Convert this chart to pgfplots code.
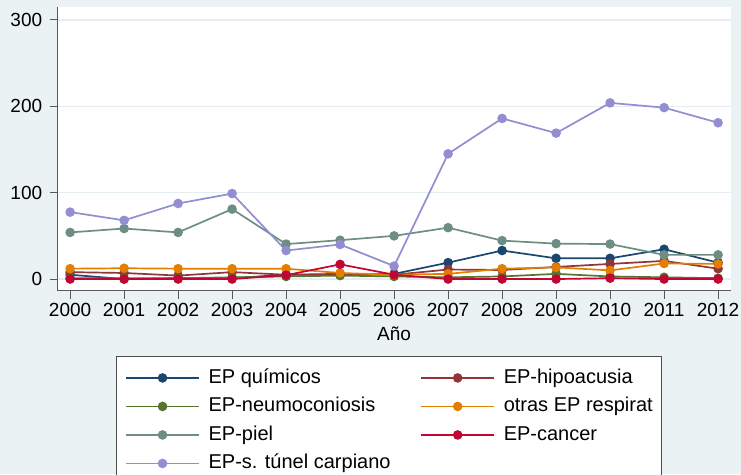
\documentclass[border=0pt]{standalone}
\usepackage{pgfplots}
\usepackage{pgfplotstable}
\pgfplotsset{compat=1.18}
\usepackage{fontspec}
\setmainfont{Liberation Sans}

\definecolor{bgc}{HTML}{EAF2F3}
\definecolor{gridc}{HTML}{E4EDF0}
\definecolor{pnavy}{HTML}{1A476F}
\definecolor{pmaroon}{HTML}{90353B}
\definecolor{pforest}{HTML}{55752F}
\definecolor{porange}{HTML}{E37E00}
\definecolor{pteal}{HTML}{6E8E84}
\definecolor{pcran}{HTML}{C10534}
\definecolor{plav}{HTML}{938DD2}

% values
\pgfplotstableread{
year quim hipo neumo otras piel cancer tunel
2000 5 8 1 12 54 0 77.5
2001 0 7 1 12.5 58.5 0 68
2002 1 4 1 12 54 0 87.5
2003 1 8 2 12 81 0 99
2004 5 5 3 12 40.5 4.5 33
2005 5 6 4 7 45 17 40
2006 6 5 3 5 50 5 15
2007 19 11 2 6 59.5 0 145
2008 33 10.5 3 12 44.5 0 186
2009 24 14 6 13.5 41 0 169
2010 24 17.5 3 10 40.5 1 204
2011 34.5 21 2 18 28 0 198.5
2012 19 12 1 17.5 28 0 181
}\data

\begin{document}
\begin{tikzpicture}[x=1pt,y=1pt]
\fill[bgc] (0,0) rectangle (741,474);
\useasboundingbox (0,0) rectangle (741,474);
\begin{axis}[
    at={(57.7pt,183.3pt)}, anchor=south west,
    scale only axis, width=672.8pt, height=283.4pt,
    xmin=1999.77, xmax=2012.23, ymin=-13.5, ymax=314.7,
    axis background/.style={fill=white},
    axis x line*=bottom, axis y line*=left,
    axis line style={black!65, line width=1.1pt, -},
    xtick={2000,...,2012}, ytick={0,100,200,300},
    tick align=outside, major tick length=8pt,
    tick style={black!65, line width=1pt},
    ymajorgrids, major grid style={gridc, line width=1.3pt},
    /pgf/number format/assume math mode=true,
    tick label style={font=\fontsize{19}{22}\selectfont},
    xticklabel style={/pgf/number format/1000 sep={}, yshift=-1pt},
    yticklabel style={xshift=-4pt},
    xlabel={Año},
    every axis x label/.style={at={(axis description cs:0.5,-0.174)}, anchor=base, font=\fontsize{19}{22}\selectfont},
    every axis plot/.append style={line width=1.7pt, mark=*, mark size=3.9pt, mark options={solid}},
    legend columns=2,
    legend cell align=left,
    legend style={at={(axis description cs:0.0867,-0.2304)}, anchor=north west,
        draw=black!70, line width=0.8pt, fill=white,
        inner xsep=9pt, inner ysep=12.3pt,
        font=\fontsize{20}{24}\selectfont, row sep=10pt,
        nodes={inner sep=0pt, text height=14.5pt, text depth=4pt},
        /tikz/every odd column/.append style={column sep=9pt},
        /tikz/every even column/.append style={column sep=30pt}},
    legend image code/.code={\draw[mark repeat=2,mark phase=2,#1] plot coordinates {(0pt,0pt) (36.25pt,0pt) (72.5pt,0pt)};},
]
\addplot[pnavy] table[x=year,y=quim]{\data};
\addplot[pmaroon] table[x=year,y=hipo]{\data};
\addplot[pforest] table[x=year,y=neumo]{\data};
\addplot[porange] table[x=year,y=otras]{\data};
\addplot[pteal] table[x=year,y=piel]{\data};
\addplot[pcran] table[x=year,y=cancer]{\data};
\addplot[plav] table[x=year,y=tunel]{\data};
\legend{EP químicos,EP-hipoacusia,EP-neumoconiosis,otras EP respirat,EP-piel,EP-cancer,EP-s. túnel carpiano}
\end{axis}
\end{tikzpicture}
\end{document}
